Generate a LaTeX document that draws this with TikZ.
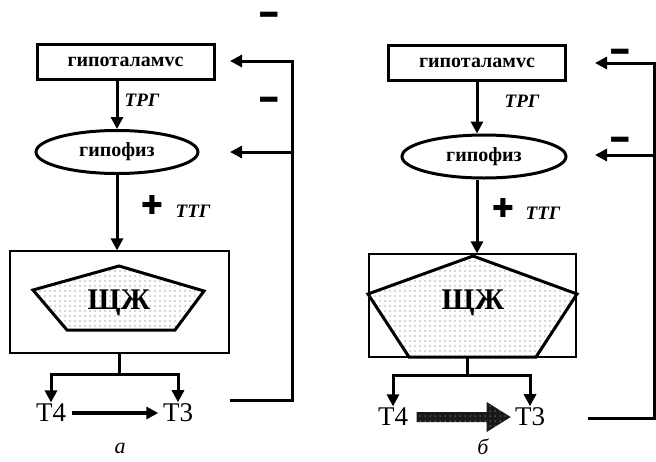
\documentclass[tikz,border=0pt]{standalone}
\usepackage{fontspec}
\setmainfont{Liberation Serif}
\newfontfamily\signfont{Liberation Sans}
\newfontfamily\crossfont{DejaVu Sans}
\usetikzlibrary{arrows.meta,shapes.geometric,patterns.meta,calc}

\tikzset{
  hormbox/.style={draw, line width=3pt, minimum width=177pt, minimum height=35pt, inner sep=0pt,
    font=\bfseries\fontsize{20}{24}\selectfont},
  glandoval/.style={ellipse, draw, line width=3pt, minimum height=43pt, inner sep=0pt,
    font=\bfseries\fontsize{20}{24}\selectfont},
  thinframe/.style={draw, line width=1.2pt, inner sep=0pt},
  pentfill/.style={draw, line width=3pt, line join=miter,
    pattern={Dots[distance=5pt,radius=0.55pt]}, pattern color=black!70},
  thylabel/.style={font=\bfseries\fontsize{30}{32}\selectfont, inner sep=0pt},
  tlabel/.style={font=\fontsize{27}{30}\selectfont, inner sep=1.5pt},
  hormlabel/.style={font=\bfseries\itshape\fontsize{19}{21}\selectfont, inner sep=0pt},
  plussign/.style={font=\crossfont\fontsize{26}{26}\selectfont, inner sep=0pt},
  minussign/.style={font=\signfont\bfseries\fontsize{27}{27}\selectfont, inner sep=0pt, anchor=base},
  flow/.style={line width=3pt, -{Triangle[length=12pt,width=12pt]}},
  loopline/.style={line width=3pt},
  fatarrow/.style={fill=black!90, postaction={pattern={Dots[distance=5pt,radius=0.5pt]}, pattern color=white}},
  panel/.style={font=\itshape\fontsize{22}{24}\selectfont},
}
\newcommand{\minustext}{\scalebox{1.3}[1.9]{–}}

\begin{document}
\begin{tikzpicture}[x=1pt,y=-1pt]
    \useasboundingbox (0,0) rectangle (656,461);

    % ---------- panel a ----------
    % draw glands
    \node[hormbox] (hyp1) at (125.5,61.5) {гипоталамvс};
    \node[glandoval, minimum width=162pt] (pit1) at (117,152) {гипофиз};
    \node[thinframe, minimum width=219pt, minimum height=102pt] (frame1) at (119.5,302) {};
    \draw[pentfill] (119,266) -- (204,291) -- (175,330) -- (67,330) -- (33,290) -- cycle;
    \node[thylabel] (thy1) at (119,303) {ЩЖ};

    % draw hormones
    \node[tlabel] (t4a) at (51,413) {Т4};
    \node[tlabel] (t3a) at (178,413) {Т3};
    \node[hormlabel] (trg1) at (142,100) {ТРГ};
    \node[hormlabel] (ttg1) at (193,211) {ТТГ};
    \node[plussign] (plus1) at (152,205) {✚};
    \node[minussign] (minus1) at (269,28.5) {\minustext};
    \node[minussign] (minus2) at (269,113.5) {\minustext};
    \node[panel] (capa) at (120,448) {а};

    % draw arrows
    \draw[flow] (pit1.north |- hyp1.south) -- (pit1.north);
    \draw[flow] (pit1.south) -- (pit1.south |- frame1.north);
    \coordinate (fork1) at (119,374);
    \draw[loopline] (frame1.south -| fork1) -- (fork1);
    \draw[flow] (fork1) -| (t4a.north);
    \draw[flow] (fork1) -| (t3a.north);
    \draw[line width=3.5pt, -{Triangle[length=12pt,width=12pt]}] ([xshift=4pt]t4a.east) -- ([xshift=-3pt]t3a.west);

    % draw feedback
    \coordinate (out1) at (230,400);
    \coordinate (rail1) at (292,61);
    \coordinate (hin1) at (230,61);
    \coordinate (pin1) at (230,152);
    \draw[flow] (out1) -| (rail1) -- (hin1);
    \draw[flow] (pin1 -| rail1) -- (pin1);

    % ---------- panel b ----------
    % draw glands
    \node[hormbox] (hyp2) at (477,62.5) {гипоталамvс};
    \node[glandoval, minimum width=164pt] (pit2) at (484,156.5) {гипофиз};
    \node[thinframe, minimum width=207pt, minimum height=103pt] (frame2) at (472.5,305.5) {};
    \draw[pentfill] (473,256) -- (577,294) -- (536,357) -- (409,357) -- (368,294) -- cycle;
    \node[thylabel] (thy2) at (473,303) {ЩЖ};

    % draw hormones
    \node[tlabel] (t4b) at (393,417) {Т4};
    \node[tlabel] (t3b) at (530,417) {Т3};
    \node[hormlabel] (trg2) at (522,101) {ТРГ};
    \node[hormlabel] (ttg2) at (543,213) {ТТГ};
    \node[plussign] (plus2) at (503,208) {✚};
    \node[minussign] (minus3) at (620,65.5) {\minustext};
    \node[minussign] (minus4) at (620,153.5) {\minustext};
    \node[panel] (capb) at (483,447) {б};

    % draw arrows
    \draw[flow] (hyp2.south) -- (hyp2.south |- pit2.north);
    \draw[flow] (hyp2.south |- pit2.south) -- (hyp2.south |- frame2.north);
    \coordinate (fork2) at (467,375);
    \draw[loopline] (frame2.south -| fork2) -- (fork2);
    \draw[flow] (fork2) -| (t4b.north);
    \draw[flow] (fork2) -| (t3b.north);
    \path[fatarrow] ($(t4b.east)+(7,-5)$) -- ++(70,0) -- ++(0,-10) -- ++(24,15)
        -- ++(-24,15) -- ++(0,-10) -- ++(-70,0) -- cycle;

    % draw feedback
    \coordinate (out2) at (588,418);
    \coordinate (rail2) at (654,63);
    \coordinate (hin2) at (595,63);
    \coordinate (pin2) at (595,155);
    \draw[flow] (out2) -| (rail2) -- (hin2);
    \draw[flow] (pin2 -| rail2) -- (pin2);
\end{tikzpicture}
\end{document}
